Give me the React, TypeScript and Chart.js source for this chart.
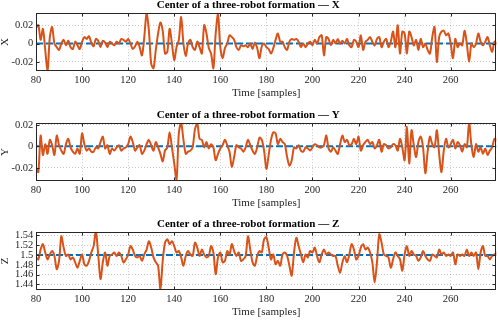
import React, { useEffect, useRef } from "react";
import { Chart, registerables } from "chart.js";

Chart.register(...registerables);

// ---------- data ----------
const SAMPLE_START = 80;
const X_MIN = 80;
const X_MAX = 279.8;
const X_TICKS = [80, 100, 120, 140, 160, 180, 200, 220, 240, 260];
const X_LABEL = "Time [samples]";
const TITLE_BASE = "Center of a three-robot formation — ";

// measured centre of the formation (orange), one value per sample 80..280
const X_ACTUAL = [
  0.017, 0.02, 0.004, 0.016, -0.007, -0.03, 0.007, 0.018, 0, -0.004,
  -0.007, 0, 0.004, -0.002, 0.003, -0.004, -0.006, 0.002, -0.002, -0.006,
  0.002, 0.007, 0.005, 0.008, 0.001, -0.003, 0.005, 0.003, -0.004, 0.003,
  0.001, -0.004, 0.002, 0, -0.002, 0.002, 0, 0.005, 0.004, 0.002,
  0.005, 0, -0.006, -0.003, 0.002, -0.004, -0.013, 0.007, 0.033, 0.014,
  -0.022, -0.027, -0.007, 0.011, 0.023, 0.014, -0.011, -0.009, 0.016, 0,
  -0.018, -0.004, 0.004, 0.029, 0, -0.014, 0, 0.004, -0.004, -0.007,
  0.002, -0.004, -0.011, 0.02, 0.011, -0.005, -0.011, -0.027, 0.011, 0.032,
  -0.004, -0.016, -0.005, 0, 0.009, 0.007, 0.004, -0.004, -0.007, -0.002,
  -0.003, -0.002, -0.004, 0, -0.006, 0.001, -0.005, -0.016, -0.003, 0,
  -0.004, -0.006, -0.011, -0.005, 0.004, 0.011, 0.002, 0.002, -0.004, -0.007,
  0.002, 0.005, 0.004, 0.005, 0.002, -0.004, 0, -0.004, 0, 0.002,
  -0.002, 0.004, 0, 0.007, 0.009, -0.013, 0.007, 0.005, -0.002, 0.004,
  0, 0.005, 0, 0.003, 0, 0.005, -0.002, -0.004, 0.004, 0.002,
  -0.004, 0.009, -0.007, 0.002, 0.004, 0.007, 0.002, -0.002, 0.005, 0.007,
  -0.004, 0.002, 0.005, -0.004, 0.002, 0.013, -0.004, 0.02, -0.011, 0.013,
  0.011, -0.011, 0.013, 0.007, -0.002, 0.004, -0.007, 0.005, -0.004, 0,
  -0.007, -0.011, 0.007, 0.018, -0.02, 0.007, 0.013, 0.014, 0.009, 0.011,
  0, -0.016, 0.005, -0.004, 0, -0.002, 0.014, 0, -0.02, 0,
  -0.004, 0, 0.011, 0.002, -0.002, 0.002, 0.007, -0.002, -0.009, 0.002,
  0,
];

const Y_ACTUAL = [
  -0.02, -0.024, 0.01, -0.008, 0.002, -0.007, 0.006, 0.001, -0.008, 0.01,
  0.001, -0.004, -0.007, 0.002, 0.007, -0.001, -0.005, -0.007, -0.002, -0.007,
  0.012, 0.002, -0.004, -0.002, -0.005, -0.005, -0.001, -0.002, 0.004, 0.009,
  -0.002, 0.001, -0.007, -0.002, -0.004, -0.001, 0.001, -0.004, -0.002, -0.001,
  0.002, 0.009, 0.004, -0.004, -0.001, 0.001, -0.007, -0.004, 0.002, 0.006,
  0.001, -0.004, 0.004, -0.001, -0.007, -0.014, -0.004, -0.001, 0.013, -0.001,
  -0.016, -0.031, 0.012, 0.022, 0.006, -0.007, -0.005, -0.004, -0.001, 0.016,
  0.021, 0.007, 0.006, -0.001, 0.004, -0.002, 0.002, -0.001, -0.013, -0.007,
  -0.002, 0.001, 0.006, 0.001, -0.005, -0.019, -0.01, 0.001, -0.001, -0.002,
  -0.005, -0.001, 0.006, 0.001, -0.004, -0.007, -0.001, 0.008, 0.006, -0.004,
  -0.021, -0.008, 0.006, 0.013, 0.012, 0.002, 0.007, 0.004, 0.002, -0.01,
  -0.018, -0.013, -0.001, -0.002, 0.001, -0.004, -0.005, -0.001, -0.002, -0.004,
  -0.001, 0.002, 0.001, -0.001, -0.001, 0.001, 0.01, -0.002, -0.005, -0.001,
  -0.004, -0.007, 0.002, 0.01, 0.004, 0.006, 0.001, 0.002, 0.007, 0.002,
  0.009, -0.004, 0.001, 0.004, 0.006, 0.002, 0.004, -0.002, 0.001, 0.006,
  -0.005, 0.002, 0.001, -0.002, -0.001, 0.002, 0.001, -0.004, 0.007, -0.001,
  -0.013, 0.018, -0.016, 0.015, 0.001, -0.01, 0.004, 0.009, -0.001, -0.025,
  -0.005, 0.009, 0.002, -0.001, 0.015, -0.007, -0.024, -0.004, 0.007, -0.001,
  0.002, 0.006, -0.002, 0.004, 0.001, -0.005, 0.002, -0.001, 0.022, 0.001,
  -0.01, 0.002, -0.005, -0.001, -0.007, -0.002, -0.008, -0.004, -0.001, 0.007,
  0.006,
];

const Z_ACTUAL = [
  1.495, 1.491, 1.511, 1.522, 1.505, 1.491, 1.501, 1.508, 1.498, 1.471,
  1.488, 1.538, 1.515, 1.498, 1.501, 1.491, 1.495, 1.485, 1.474, 1.488,
  1.501, 1.481, 1.478, 1.488, 1.505, 1.518, 1.548, 1.501, 1.451, 1.485,
  1.505, 1.478, 1.498, 1.501, 1.505, 1.498, 1.505, 1.498, 1.485, 1.491,
  1.501, 1.518, 1.511, 1.498, 1.495, 1.498, 1.488, 1.501, 1.511, 1.528,
  1.515, 1.495, 1.485, 1.478, 1.431, 1.488, 1.525, 1.532, 1.522, 1.528,
  1.518, 1.505, 1.508, 1.495, 1.478, 1.498, 1.508, 1.501, 1.498, 1.525,
  1.515, 1.498, 1.511, 1.501, 1.495, 1.498, 1.518, 1.505, 1.461, 1.495,
  1.505, 1.485, 1.488, 1.508, 1.501, 1.522, 1.508, 1.498, 1.505, 1.488,
  1.491, 1.498, 1.538, 1.511, 1.485, 1.478, 1.498, 1.508, 1.505, 1.532,
  1.536, 1.515, 1.491, 1.501, 1.481, 1.488, 1.478, 1.501, 1.505, 1.498,
  1.478, 1.458, 1.505, 1.535, 1.518, 1.501, 1.485, 1.501, 1.495, 1.508,
  1.505, 1.515, 1.498, 1.485, 1.501, 1.511, 1.501, 1.505, 1.501, 1.498,
  1.498, 1.478, 1.464, 1.485, 1.498, 1.485, 1.501, 1.522, 1.511, 1.491,
  1.498, 1.515, 1.522, 1.511, 1.515, 1.505, 1.485, 1.444, 1.485, 1.542,
  1.525, 1.501, 1.498, 1.495, 1.474, 1.491, 1.505, 1.498, 1.491, 1.468,
  1.501, 1.518, 1.498, 1.508, 1.501, 1.498, 1.488, 1.495, 1.508, 1.498,
  1.491, 1.488, 1.501, 1.498, 1.495, 1.511, 1.501, 1.505, 1.498, 1.501,
  1.498, 1.505, 1.481, 1.501, 1.498, 1.501, 1.498, 1.511, 1.498, 1.505,
  1.498, 1.505, 1.471, 1.505, 1.518, 1.498, 1.498, 1.491, 1.498, 1.501,
  1.505,
];

// desired centre (blue dashed), constant reference, given at the first and last sample
const REF_SAMPLES = [80, 280];
const X_REFERENCE = [0, 0];
const Y_REFERENCE = [0, 0];
const Z_REFERENCE = [1.5, 1.5];

const X_Y_TICKS = [-0.02, 0, 0.02];
const Y_Y_TICKS = [-0.02, 0, 0.02];
const Z_Y_TICKS = [1.44, 1.46, 1.48, 1.5, 1.52, 1.54];

// ---------- style ----------
const ORANGE = "#D95319";
const BLUE = "#0072BD";
const AXIS_COLOR = "#262626";
const GRID_COLOR = "rgba(38,38,38,0.25)";
const FONT = "'Liberation Serif', 'Times New Roman', Times, serif";

const framePlugin = {
  id: "frame",
  afterDraw(chart: any) {
    const { ctx, chartArea, scales } = chart;
    const L = Math.round(chartArea.left) + 0.5;
    const R = Math.round(chartArea.right) - 0.5;
    const T = Math.round(chartArea.top) + 0.5;
    const B = Math.round(chartArea.bottom) - 0.5;
    ctx.save();
    ctx.setLineDash([]);
    ctx.strokeStyle = AXIS_COLOR;
    ctx.lineWidth = 1;
    ctx.strokeRect(L, T, R - L, B - T);
    const tl = 3;
    ctx.beginPath();
    scales.x.ticks.forEach((t: any) => {
      const px = Math.round(scales.x.getPixelForValue(t.value)) + 0.5;
      ctx.moveTo(px, B);
      ctx.lineTo(px, B - tl);
      ctx.moveTo(px, T);
      ctx.lineTo(px, T + tl);
    });
    scales.y.ticks.forEach((t: any) => {
      const py = Math.round(scales.y.getPixelForValue(t.value)) + 0.5;
      ctx.moveTo(L, py);
      ctx.lineTo(L + tl, py);
      ctx.moveTo(R, py);
      ctx.lineTo(R - tl, py);
    });
    ctx.stroke();
    ctx.restore();
  },
};

type PanelProps = {
  top: number;
  axisName: string;
  actual: number[];
  reference: number[];
  yMin: number;
  yMax: number;
  yTicks: number[];
};

function Panel({ top, axisName, actual, reference, yMin, yMax, yTicks }: PanelProps) {
  const ref = useRef<HTMLCanvasElement | null>(null);
  useEffect(() => {
    const canvas = ref.current;
    if (!canvas) return;
    const actualPts = actual.map((y, i) => ({ x: SAMPLE_START + i, y }));
    const refPts = REF_SAMPLES.map((x, i) => ({ x, y: reference[i] }));
    const chart = new Chart(canvas, {
      type: "line",
      data: {
        datasets: [
          {
            data: actualPts,
            borderColor: ORANGE,
            borderWidth: 2,
            pointRadius: 0,
            tension: 0.3,
            borderJoinStyle: "round",
            borderCapStyle: "round",
          },
          {
            data: refPts,
            borderColor: BLUE,
            borderWidth: 2,
            borderDash: [7, 3],
            pointRadius: 0,
          },
        ],
      },
      options: {
        animation: false,
        responsive: false,
        devicePixelRatio: 1,
        events: [],
        layout: { padding: { left: 0, right: 1.7, top: 0, bottom: 0 } },
        plugins: {
          legend: { display: false },
          tooltip: { enabled: false },
          title: {
            display: true,
            text: TITLE_BASE + axisName,
            color: "#000",
            font: { family: FONT, size: 11, weight: "bold", lineHeight: 1.2 },
            padding: { top: -1.5, bottom: 1.5 },
          },
        },
        scales: {
          x: {
            type: "linear",
            min: X_MIN,
            max: X_MAX,
            afterBuildTicks: (axis: any) => {
              axis.ticks = X_TICKS.map((v) => ({ value: v }));
            },
            afterFit: (axis: any) => {
              axis.height = 39.3;
            },
            grid: { color: GRID_COLOR, lineWidth: 1, drawTicks: false },
            border: { display: false, dash: [1, 2] },
            ticks: {
              color: AXIS_COLOR,
              padding: 3,
              maxRotation: 0,
              autoSkip: false,
              font: { family: FONT, size: 10.5 },
              callback: (v: any) => String(v),
            },
            title: {
              display: true,
              text: X_LABEL,
              color: AXIS_COLOR,
              font: { family: FONT, size: 11, lineHeight: 1.2 },
              padding: { top: 0, bottom: 10.4 },
            },
          },
          y: {
            type: "linear",
            min: yMin,
            max: yMax,
            afterBuildTicks: (axis: any) => {
              axis.ticks = yTicks.map((v) => ({ value: v }));
            },
            afterFit: (axis: any) => {
              axis.width = 36;
            },
            grid: { color: GRID_COLOR, lineWidth: 1, drawTicks: false },
            border: { display: false, dash: [1, 2] },
            ticks: {
              color: AXIS_COLOR,
              padding: 2.7,
              autoSkip: false,
              font: { family: FONT, size: 10.5 },
              callback: (v: any) => String(Number(Number(v).toFixed(2))),
            },
            title: {
              display: true,
              text: axisName,
              color: AXIS_COLOR,
              font: { family: FONT, size: 11, lineHeight: 1 },
              padding: { top: 0, bottom: 0 },
            },
          },
        },
      },
      plugins: [framePlugin],
    } as any);
    return () => chart.destroy();
  }, []);
  return (
    <canvas
      ref={ref}
      width={498}
      height={110}
      style={{ position: "absolute", left: 0, top, width: 498, height: 110, display: "block" }}
    />
  );
}

export default function App() {
  return (
    <div style={{ position: "absolute", left: 0, top: 0, width: 498, height: 320, background: "#fff", overflow: "hidden" }}>
      <Panel top={0} axisName="X" actual={X_ACTUAL} reference={X_REFERENCE} yMin={-0.0297} yMax={0.0331} yTicks={X_Y_TICKS} />
      <Panel top={110} axisName="Y" actual={Y_ACTUAL} reference={Y_REFERENCE} yMin={-0.032} yMax={0.0215} yTicks={Y_Y_TICKS} />
      <Panel top={219} axisName="Z" actual={Z_ACTUAL} reference={Z_REFERENCE} yMin={1.4293} yMax={1.5463} yTicks={Z_Y_TICKS} />
    </div>
  );
}
